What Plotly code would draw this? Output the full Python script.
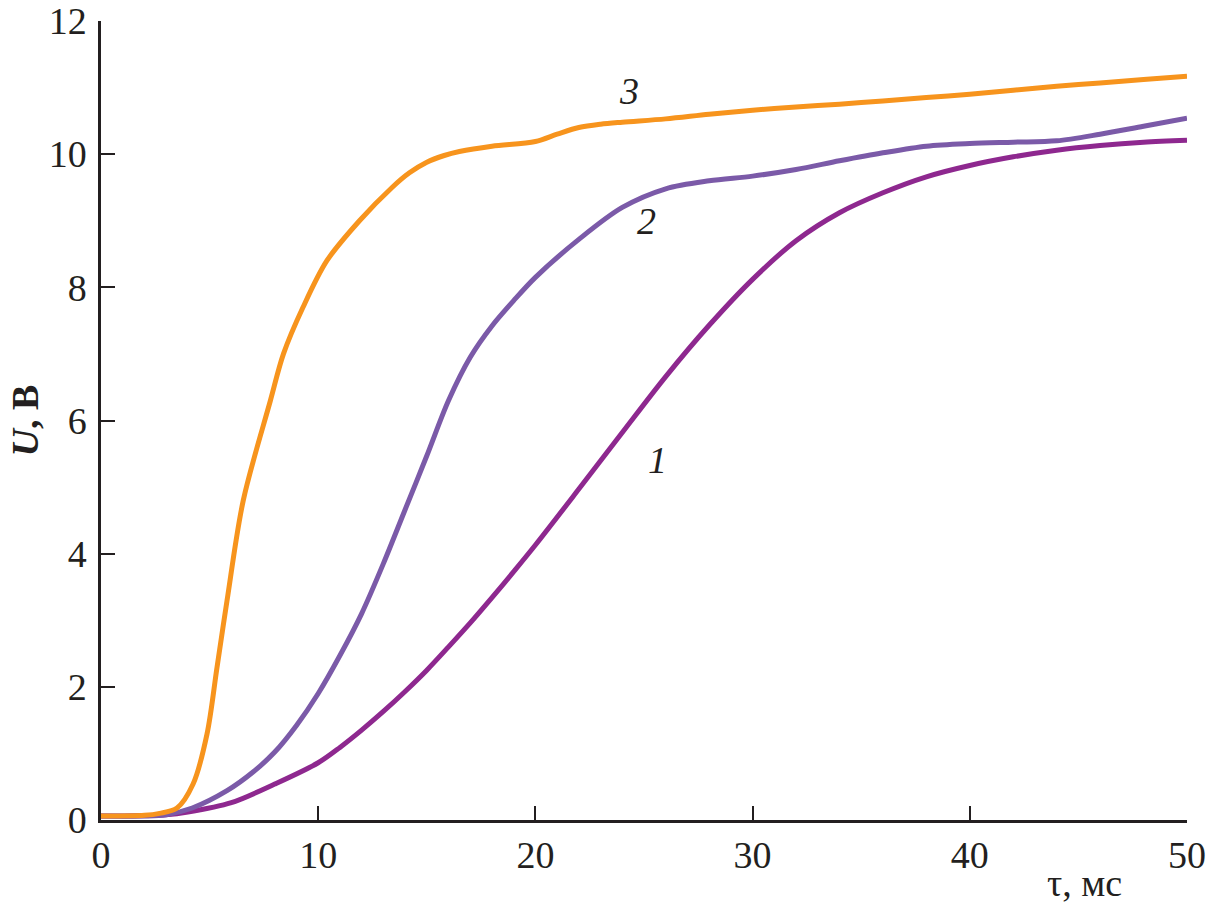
import plotly.graph_objects as go

# Curve 1 (magenta)
t1 = [0, 3, 4, 6, 8, 10, 11, 12, 13, 14, 15, 16, 17, 18, 19, 20, 22, 24, 26, 28, 30, 32, 34, 36, 38, 40, 42, 44, 46, 48, 50]
u1 = [0.06, 0.08, 0.12, 0.26, 0.54, 0.86, 1.09, 1.35, 1.63, 1.93, 2.25, 2.6, 2.96, 3.34, 3.73, 4.13, 4.97, 5.82, 6.66, 7.43, 8.12, 8.7, 9.12, 9.42, 9.66, 9.83, 9.96, 10.06, 10.13, 10.18, 10.21]

# Curve 2 (purple)
t2 = [0, 2, 3, 4.2, 5.8, 7, 8, 9, 10, 11, 12, 13, 14, 15, 16, 17, 18, 19, 20, 22, 24, 26, 28, 30, 32, 34, 36, 38, 40, 42, 44, 46, 48, 50]
u2 = [0.06, 0.06, 0.08, 0.18, 0.44, 0.72, 1.02, 1.42, 1.9, 2.47, 3.1, 3.85, 4.66, 5.47, 6.3, 6.95, 7.42, 7.8, 8.15, 8.72, 9.2, 9.48, 9.6, 9.67, 9.77, 9.9, 10.02, 10.12, 10.16, 10.18, 10.2, 10.3, 10.42, 10.54]

# Curve 3 (orange)
t3 = [0, 2.0, 2.7, 3.5, 4.24, 4.88, 5.34, 5.8, 6.55, 7.8, 8.4, 9.3, 10.4, 11.9, 13.4, 14.2, 15.0, 15.8, 16.5, 18.0, 20.0, 21.0, 22.0, 23, 24, 26, 28, 30, 32, 34, 36, 38, 40, 42, 44, 46, 48, 50]
u3 = [0.06, 0.07, 0.1, 0.18, 0.54, 1.29, 2.29, 3.29, 4.8, 6.3, 7.0, 7.7, 8.4, 9.0, 9.5, 9.72, 9.88, 9.98, 10.04, 10.12, 10.19, 10.3, 10.4, 10.45, 10.48, 10.53, 10.6, 10.66, 10.71, 10.75, 10.8, 10.85, 10.9, 10.96, 11.02, 11.07, 11.12, 11.17]

curve_labels = ["1", "2", "3"]
label_t = [25.6, 25.1, 24.3]
label_u = [5.4, 9.0, 10.95]

x_ticks = [0, 10, 20, 30, 40, 50]
y_ticks = [0, 2, 4, 6, 8, 10, 12]

colors = ["#8E288F", "#7B5AA8", "#F7941D"]
FONT = "Liberation Serif"

fig = go.Figure()
for t, u, c in [(t1, u1, colors[0]), (t2, u2, colors[1]), (t3, u3, colors[2])]:
    fig.add_trace(go.Scatter(x=t, y=u, mode="lines",
                             line=dict(color=c, width=5, shape="spline", smoothing=0.9),
                             cliponaxis=False, showlegend=False, hoverinfo="skip"))

for lab, lx, ly in zip(curve_labels, label_t, label_u):
    fig.add_annotation(x=lx, y=ly, text="<i>" + lab + "</i>", showarrow=False,
                       font=dict(family=FONT, size=38, color="#231f20"))

fig.add_annotation(xref="paper", yref="paper", x=0.906, y=-0.079, xanchor="center", yanchor="middle",
                   text="τ, мс", showarrow=False, font=dict(family=FONT, size=38, color="#231f20"))
fig.add_annotation(xref="paper", yref="paper", x=-0.07, y=0.5, xanchor="center", yanchor="middle",
                   text="<b><i>U</i>, В</b>", textangle=-90, showarrow=False,
                   font=dict(family=FONT, size=38, color="#231f20"))

axis_common = dict(showgrid=False, zeroline=False, showline=True, linecolor="#231f20", linewidth=2.5,
                   ticks="inside", ticklen=14, tickwidth=2, tickcolor="#231f20", automargin=False,
                   tickfont=dict(family=FONT, size=38, color="#231f20"))

fig.update_xaxes(range=[0, 50], tickvals=x_ticks, ticktext=[str(v) for v in x_ticks], **axis_common)
fig.update_yaxes(range=[0, 12], tickvals=y_ticks, ticktext=[str(v) for v in y_ticks],
                 ticklabelstandoff=4, **axis_common)

fig.update_layout(width=1208, height=906, plot_bgcolor="white", paper_bgcolor="white",
                  margin=dict(l=101, r=21, t=21, b=86, autoexpand=False), showlegend=False)

# remove the default page margin so the figure sits at the window's top-left corner
fig.write_html("out.html", config={"displayModeBar": False},
               post_script="document.body.style.margin='0';document.body.style.overflow='hidden';")
